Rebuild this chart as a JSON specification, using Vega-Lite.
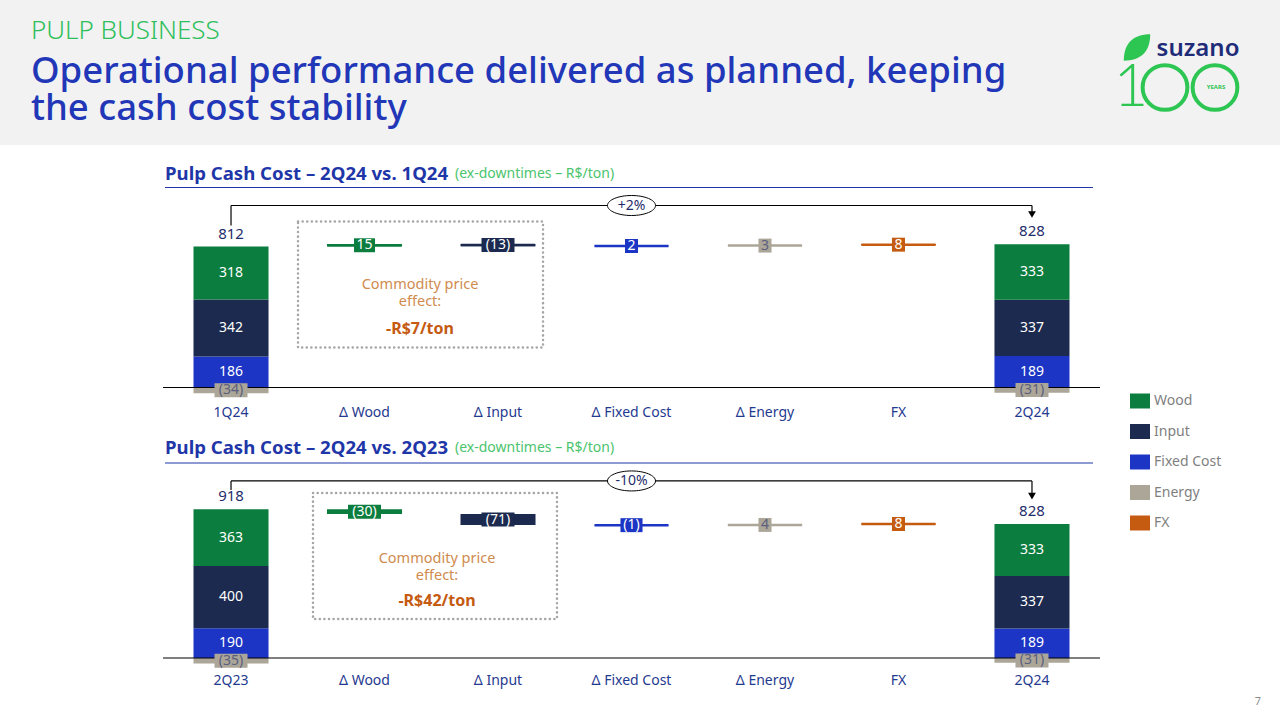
{
  "$schema": "https://vega.github.io/schema/vega-lite/v6.json",
  "padding": 0,
  "autosize": {"type": "pad"},
  "background": "white",
  "columns": 1,
  "bounds": "full",
  "spacing": 19.5,
  "config": {
    "font": "Noto Sans",
    "view": {"stroke": null},
    "text": {"font": "Noto Sans"}
  },
  "datasets": {
    "p1s": [
      {"cat": "1Q24", "comp": "Fixed Cost", "v": 186},
      {"cat": "1Q24", "comp": "Input", "v": 342},
      {"cat": "1Q24", "comp": "Wood", "v": 318},
      {"cat": "1Q24", "comp": "Energy", "v": -34},
      {"cat": "2Q24", "comp": "Fixed Cost", "v": 189},
      {"cat": "2Q24", "comp": "Input", "v": 337},
      {"cat": "2Q24", "comp": "Wood", "v": 333},
      {"cat": "2Q24", "comp": "Energy", "v": -31}
    ],
    "p1d": [
      {"cat": "Δ Wood", "comp": "Wood", "v": 15, "from": 846, "to": 861},
      {"cat": "Δ Input", "comp": "Input", "v": -13, "from": 861, "to": 848},
      {"cat": "Δ Fixed Cost", "comp": "Fixed Cost", "v": 2, "from": 848, "to": 850},
      {"cat": "Δ Energy", "comp": "Energy", "v": 3, "from": 850, "to": 853},
      {"cat": "FX", "comp": "FX", "v": 8, "from": 853, "to": 861}
    ],
    "p1n": [{"title": "Pulp Cash Cost – 2Q24 vs. 1Q24", "pct": "+2%", "note": "Commodity price\neffect:", "effect": "-R$7/ton", "unit": "(ex-downtimes – R$/ton)"}],
    "p2s": [
      {"cat": "2Q23", "comp": "Fixed Cost", "v": 190},
      {"cat": "2Q23", "comp": "Input", "v": 400},
      {"cat": "2Q23", "comp": "Wood", "v": 363},
      {"cat": "2Q23", "comp": "Energy", "v": -35},
      {"cat": "2Q24", "comp": "Fixed Cost", "v": 189},
      {"cat": "2Q24", "comp": "Input", "v": 337},
      {"cat": "2Q24", "comp": "Wood", "v": 333},
      {"cat": "2Q24", "comp": "Energy", "v": -31}
    ],
    "p2d": [
      {"cat": "Δ Wood", "comp": "Wood", "v": -30, "from": 953, "to": 923},
      {"cat": "Δ Input", "comp": "Input", "v": -71, "from": 923, "to": 852},
      {"cat": "Δ Fixed Cost", "comp": "Fixed Cost", "v": -1, "from": 852, "to": 851},
      {"cat": "Δ Energy", "comp": "Energy", "v": 4, "from": 851, "to": 855},
      {"cat": "FX", "comp": "FX", "v": 8, "from": 855, "to": 863}
    ],
    "p2n": [{"title": "Pulp Cash Cost – 2Q24 vs. 2Q23", "pct": "-10%", "note": "Commodity price\neffect:", "effect": "-R$42/ton", "unit": "(ex-downtimes – R$/ton)", "page": "7"}],
    "logo": [{"brand": "suzano", "one": "1", "small": "YEARS"}]
  },
  "concat": [
    {
      "width": 1280,
      "height": 145,
      "view": {"fill": "#f2f2f2", "stroke": null},
      "title": {
        "text": "PULP BUSINESS",
        "subtitle": ["Operational performance delivered as planned, keeping", "the cash cost stability"],
        "anchor": "start", "frame": "group", "orient": "top", "offset": -127, "dx": 31,
        "font": "Noto Sans", "fontSize": 26, "fontWeight": 300, "color": "#2fbf5c",
        "subtitleFont": "Noto Sans", "subtitleFontSize": 36.5, "subtitleFontWeight": 500,
        "subtitleColor": "#2137b8", "subtitlePadding": 10, "subtitleLineHeight": 37
      },
      "data": {"name": "logo"},
      "layer": [
        {"mark": {"type": "point", "shape": "M-1,1C-1,-0.3,-0.3,-1,1,-1C1,0.3,0.3,1,-1,1Z", "filled": true, "color": "#2dc653", "opacity": 1, "size": 700, "xOffset": 497, "yOffset": -25}, "encoding": {}},
        {"mark": {"type": "text", "fontSize": 24, "fontWeight": 600, "color": "#1e2b78", "xOffset": 558, "yOffset": -24}, "encoding": {"text": {"field": "brand"}}},
        {"mark": {"type": "text", "font": "Lato", "fontSize": 60, "fontWeight": 300, "color": "#2dc653", "xOffset": 491, "yOffset": 15}, "encoding": {"text": {"field": "one"}}},
        {"mark": {"type": "point", "shape": "circle", "filled": false, "color": "#2dc653", "strokeWidth": 4, "opacity": 1, "size": 2000, "xOffset": 525, "yOffset": 15}, "encoding": {}},
        {"mark": {"type": "point", "shape": "circle", "filled": false, "color": "#2dc653", "strokeWidth": 4, "opacity": 1, "size": 2000, "xOffset": 575, "yOffset": 15}, "encoding": {}},
        {"mark": {"type": "text", "fontSize": 6, "fontWeight": 700, "color": "#2dc653", "xOffset": 576, "yOffset": 14}, "encoding": {"text": {"field": "small"}}}
      ]
    },
    {
      "width": 1100,
      "height": 210,
      "layer": [
        {
          "data": {"name": "p1s"},
          "transform": [{"calculate": "indexof(['Fixed Cost','Input','Wood','Energy'], datum.comp)", "as": "ord"}],
          "mark": {"type": "bar"},
          "encoding": {
            "x": {"field": "cat", "type": "nominal", "scale": {"domain": ["1Q24", "Δ Wood", "Δ Input", "Δ Fixed Cost", "Δ Energy", "FX", "2Q24"], "range": [163, 1100], "paddingInner": 0.438, "paddingOuter": 0.2285}, "axis": {"title": null, "domain": false, "ticks": false, "labelAngle": 0, "labelFontSize": 14, "labelColor": "#1f3a8f", "labelPadding": 8, "labelFont": "Noto Sans"}},
            "y": {"field": "v", "type": "quantitative", "stack": "zero", "scale": {"domain": [-60, 1200], "nice": false, "zero": false}, "axis": null},
            "color": {"field": "comp", "type": "nominal", "scale": {"domain": ["Wood", "Input", "Fixed Cost", "Energy", "FX"], "range": ["#0b7d3e", "#1b2a4e", "#1c35c4", "#aca699", "#c55a11"]}, "legend": {"orient": "none", "legendX": 1130, "legendY": 391, "title": null, "symbolType": "M-1,-0.75H1V0.75H-1Z", "symbolSize": 400, "symbolStrokeWidth": 0, "symbolOpacity": 1, "labelFontSize": 14, "labelColor": "#7f7f7f", "rowPadding": 12.5, "labelOffset": 4, "padding": 0}},
            "order": {"field": "ord", "type": "quantitative"}
          }
        },
        {
          "data": {"name": "p1d"},
          "mark": {"type": "bar"},
          "encoding": {"x": {"field": "cat", "type": "nominal"}, "y": {"field": "from", "type": "quantitative"}, "y2": {"field": "to"}, "color": {"field": "comp", "type": "nominal"}}
        },
        {
          "data": {"name": "p1d"},
          "transform": [{"calculate": "(datum.from + datum.to) / 2", "as": "mid"}],
          "mark": {"type": "tick", "thickness": 2.5, "size": 74, "opacity": 1},
          "encoding": {"x": {"field": "cat", "type": "nominal"}, "y": {"field": "mid", "type": "quantitative"}, "color": {"field": "comp", "type": "nominal"}}
        },
        {
          "data": {"values": [{}]},
          "mark": {"type": "rule", "color": "black", "strokeWidth": 1.2, "xOffset": -68, "x2Offset": 68},
          "encoding": {"x": {"datum": "1Q24"}, "x2": {"datum": "2Q24"}, "y": {"datum": 0}}
        },
        {
          "data": {"values": [{}]},
          "mark": {"type": "rule", "color": "#1f36a8", "strokeWidth": 1.2, "xOffset": -66, "x2Offset": 61},
          "encoding": {"x": {"datum": "1Q24"}, "x2": {"datum": "2Q24"}, "y": {"datum": 1200}}
        },
        {
          "data": {"name": "p1s"},
          "transform": [
            {"calculate": "indexof(['Fixed Cost','Input','Wood','Energy'], datum.comp)", "as": "ord"},
            {"stack": "v", "groupby": ["cat"], "sort": [{"field": "ord", "order": "ascending"}], "as": ["s0", "s1"]},
            {"calculate": "(datum.s0 + datum.s1) / 2", "as": "mid"},
            {"calculate": "datum.v < 0 ? '(' + (-datum.v) + ')' : '' + datum.v", "as": "lab"},
            {"calculate": "length(datum.lab)", "as": "len"}
          ],
          "layer": [
            {
              "transform": [{"filter": "datum.comp === 'Energy'"}],
              "mark": {"type": "point", "filled": true, "opacity": 1, "size": 225, "strokeWidth": 0},
              "encoding": {"x": {"field": "cat", "type": "nominal"}, "y": {"field": "mid", "type": "quantitative"}, "color": {"field": "comp", "type": "nominal"}, "shape": {"field": "len", "type": "ordinal", "scale": {"domain": [1, 2, 3, 4], "range": ["M-0.87,-0.93H0.87V0.93H-0.87Z", "M-1.4,-0.93H1.4V0.93H-1.4Z", "M-1.47,-0.93H1.47V0.93H-1.47Z", "M-2.2,-0.93H2.2V0.93H-2.2Z"]}, "legend": null}}
            },
            {
              "mark": {"type": "text", "fontSize": 14, "baseline": "middle"},
              "encoding": {"x": {"field": "cat", "type": "nominal"}, "y": {"field": "mid", "type": "quantitative"}, "text": {"field": "lab"}, "color": {"condition": {"test": "datum.comp === 'Energy'", "value": "#5b5f7d"}, "value": "white"}}
            }
          ]
        },
        {
          "data": {"name": "p1d"},
          "transform": [
            {"calculate": "(datum.from + datum.to) / 2", "as": "mid"},
            {"calculate": "datum.v < 0 ? '(' + (-datum.v) + ')' : '' + datum.v", "as": "lab"},
            {"calculate": "length(datum.lab)", "as": "len"}
          ],
          "layer": [
            {
              "mark": {"type": "point", "filled": true, "opacity": 1, "size": 225, "strokeWidth": 0},
              "encoding": {"x": {"field": "cat", "type": "nominal"}, "y": {"field": "mid", "type": "quantitative"}, "color": {"field": "comp", "type": "nominal"}, "shape": {"field": "len", "type": "ordinal", "legend": null}}
            },
            {
              "mark": {"type": "text", "fontSize": 14, "baseline": "middle"},
              "encoding": {"x": {"field": "cat", "type": "nominal"}, "y": {"field": "mid", "type": "quantitative"}, "text": {"field": "lab"}, "color": {"condition": {"test": "datum.comp === 'Energy'", "value": "#5b5f7d"}, "value": "white"}}
            }
          ]
        },
        {
          "data": {"name": "p1s"},
          "transform": [
            {"joinaggregate": [{"op": "sum", "field": "v", "as": "total"}], "groupby": ["cat"]},
            {"filter": "datum.v > 0"},
            {"aggregate": [{"op": "sum", "field": "v", "as": "top"}, {"op": "max", "field": "total", "as": "total"}], "groupby": ["cat"]}
          ],
          "mark": {"type": "text", "fontSize": 15, "baseline": "middle", "dy": -13, "color": "#1f2d6b"},
          "encoding": {"x": {"field": "cat", "type": "nominal"}, "y": {"field": "top", "type": "quantitative"}, "text": {"field": "total"}}
        },
        {
          "data": {"name": "p1n"},
          "layer": [
            {"mark": {"type": "rule", "color": "black", "strokeWidth": 1.2}, "encoding": {"x": {"datum": "1Q24"}, "y": {"datum": 972}, "y2": {"datum": 1092}}},
            {"mark": {"type": "rule", "color": "black", "strokeWidth": 1.2}, "encoding": {"x": {"datum": "1Q24"}, "x2": {"datum": "2Q24"}, "y": {"datum": 1092}}},
            {"mark": {"type": "rule", "color": "black", "strokeWidth": 1.2}, "encoding": {"x": {"datum": "2Q24"}, "y": {"datum": 1092}, "y2": {"datum": 1045}}},
            {"mark": {"type": "point", "shape": "triangle-down", "filled": true, "color": "black", "size": 60, "opacity": 1}, "encoding": {"x": {"datum": "2Q24"}, "y": {"datum": 1038}}},
            {"mark": {"type": "point", "shape": "M-2.4,0C-2.4,-0.5523,-1.3255,-1,0,-1C1.3255,-1,2.4,-0.5523,2.4,0C2.4,0.5523,1.3255,1,0,1C-1.3255,1,-2.4,0.5523,-2.4,0Z", "filled": true, "fill": "white", "stroke": "black", "strokeWidth": 1, "size": 400, "opacity": 1}, "encoding": {"x": {"datum": "Δ Fixed Cost"}, "y": {"datum": 1092}}},
            {"mark": {"type": "text", "color": "#1f2d6b", "fontSize": 14, "baseline": "middle"}, "encoding": {"x": {"datum": "Δ Fixed Cost"}, "y": {"datum": 1092}, "text": {"field": "pct"}}},
            {"mark": {"type": "rect", "fill": "white", "fillOpacity": 0, "stroke": "#a6a6a6", "strokeWidth": 2.5, "strokeDash": [0.1, 4.5], "strokeCap": "round", "xOffset": -66.5, "x2Offset": 45}, "encoding": {"x": {"datum": "Δ Wood"}, "x2": {"datum": "Δ Input"}, "y": {"datum": 996}, "y2": {"datum": 240}}},
            {"mark": {"type": "text", "color": "#d08b4f", "fontSize": 14.5, "lineBreak": "\n", "lineHeight": 17, "baseline": "middle", "xOffset": 55.5}, "encoding": {"x": {"datum": "Δ Wood"}, "y": {"datum": 618}, "text": {"field": "note"}}},
            {"mark": {"type": "text", "color": "#c55a11", "fontSize": 16, "fontWeight": "bold", "baseline": "middle", "xOffset": 55.5}, "encoding": {"x": {"datum": "Δ Wood"}, "y": {"datum": 354}, "text": {"field": "effect"}}},
            {"mark": {"type": "text", "color": "#1f36a8", "fontSize": 18.6, "fontWeight": "bold", "align": "left", "baseline": "middle", "xOffset": -66}, "encoding": {"x": {"datum": "1Q24"}, "y": {"datum": 1284}, "text": {"field": "title"}}},
            {"mark": {"type": "text", "color": "#4cc46e", "fontSize": 14, "align": "left", "baseline": "middle", "xOffset": 90.5}, "encoding": {"x": {"datum": "Δ Wood"}, "y": {"datum": 1284}, "text": {"field": "unit"}}}
          ]
        }
      ]
    },
    {
      "width": 1100,
      "height": 205,
      "layer": [
        {
          "data": {"name": "p2s"},
          "transform": [{"calculate": "indexof(['Fixed Cost','Input','Wood','Energy'], datum.comp)", "as": "ord"}],
          "mark": {"type": "bar"},
          "encoding": {
            "x": {"field": "cat", "type": "nominal", "scale": {"domain": ["2Q23", "Δ Wood", "Δ Input", "Δ Fixed Cost", "Δ Energy", "FX", "2Q24"], "range": [163, 1100], "paddingInner": 0.438, "paddingOuter": 0.2285}, "axis": {"title": null, "domain": false, "ticks": false, "labelAngle": 0, "labelFontSize": 14, "labelColor": "#1f3a8f", "labelPadding": 5, "labelFont": "Noto Sans"}},
            "y": {"field": "v", "type": "quantitative", "stack": "zero", "scale": {"domain": [-64, 1250], "nice": false, "zero": false}, "axis": null},
            "color": {"field": "comp", "type": "nominal", "legend": {"orient": "none", "legendX": 1130, "legendY": 391, "title": null, "symbolType": "M-1,-0.75H1V0.75H-1Z", "symbolSize": 400, "symbolStrokeWidth": 0, "symbolOpacity": 1, "labelFontSize": 14, "labelColor": "#7f7f7f", "rowPadding": 12.5, "labelOffset": 4, "padding": 0}},
            "order": {"field": "ord", "type": "quantitative"}
          }
        },
        {
          "data": {"name": "p2d"},
          "mark": {"type": "bar"},
          "encoding": {"x": {"field": "cat", "type": "nominal"}, "y": {"field": "from", "type": "quantitative"}, "y2": {"field": "to"}, "color": {"field": "comp", "type": "nominal"}}
        },
        {
          "data": {"name": "p2d"},
          "transform": [{"calculate": "(datum.from + datum.to) / 2", "as": "mid"}],
          "mark": {"type": "tick", "thickness": 2.5, "size": 74, "opacity": 1},
          "encoding": {"x": {"field": "cat", "type": "nominal"}, "y": {"field": "mid", "type": "quantitative"}, "color": {"field": "comp", "type": "nominal"}}
        },
        {
          "data": {"values": [{}]},
          "mark": {"type": "rule", "color": "black", "strokeWidth": 1.2, "xOffset": -68, "x2Offset": 68},
          "encoding": {"x": {"datum": "2Q23"}, "x2": {"datum": "2Q24"}, "y": {"datum": 0}}
        },
        {
          "data": {"values": [{}]},
          "mark": {"type": "rule", "color": "#1f36a8", "strokeWidth": 1.2, "xOffset": -66, "x2Offset": 61},
          "encoding": {"x": {"datum": "2Q23"}, "x2": {"datum": "2Q24"}, "y": {"datum": 1250}}
        },
        {
          "data": {"name": "p2s"},
          "transform": [
            {"calculate": "indexof(['Fixed Cost','Input','Wood','Energy'], datum.comp)", "as": "ord"},
            {"stack": "v", "groupby": ["cat"], "sort": [{"field": "ord", "order": "ascending"}], "as": ["s0", "s1"]},
            {"calculate": "(datum.s0 + datum.s1) / 2", "as": "mid"},
            {"calculate": "datum.v < 0 ? '(' + (-datum.v) + ')' : '' + datum.v", "as": "lab"},
            {"calculate": "length(datum.lab)", "as": "len"}
          ],
          "layer": [
            {
              "transform": [{"filter": "datum.comp === 'Energy'"}],
              "mark": {"type": "point", "filled": true, "opacity": 1, "size": 225, "strokeWidth": 0},
              "encoding": {"x": {"field": "cat", "type": "nominal"}, "y": {"field": "mid", "type": "quantitative"}, "color": {"field": "comp", "type": "nominal"}, "shape": {"field": "len", "type": "ordinal", "scale": {"domain": [1, 2, 3, 4], "range": ["M-0.87,-0.93H0.87V0.93H-0.87Z", "M-1.4,-0.93H1.4V0.93H-1.4Z", "M-1.47,-0.93H1.47V0.93H-1.47Z", "M-2.2,-0.93H2.2V0.93H-2.2Z"]}, "legend": null}}
            },
            {
              "mark": {"type": "text", "fontSize": 14, "baseline": "middle"},
              "encoding": {"x": {"field": "cat", "type": "nominal"}, "y": {"field": "mid", "type": "quantitative"}, "text": {"field": "lab"}, "color": {"condition": {"test": "datum.comp === 'Energy'", "value": "#5b5f7d"}, "value": "white"}}
            }
          ]
        },
        {
          "data": {"name": "p2d"},
          "transform": [
            {"calculate": "(datum.from + datum.to) / 2", "as": "mid"},
            {"calculate": "datum.v < 0 ? '(' + (-datum.v) + ')' : '' + datum.v", "as": "lab"},
            {"calculate": "length(datum.lab)", "as": "len"}
          ],
          "layer": [
            {
              "mark": {"type": "point", "filled": true, "opacity": 1, "size": 225, "strokeWidth": 0},
              "encoding": {"x": {"field": "cat", "type": "nominal"}, "y": {"field": "mid", "type": "quantitative"}, "color": {"field": "comp", "type": "nominal"}, "shape": {"field": "len", "type": "ordinal", "legend": null}}
            },
            {
              "mark": {"type": "text", "fontSize": 14, "baseline": "middle"},
              "encoding": {"x": {"field": "cat", "type": "nominal"}, "y": {"field": "mid", "type": "quantitative"}, "text": {"field": "lab"}, "color": {"condition": {"test": "datum.comp === 'Energy'", "value": "#5b5f7d"}, "value": "white"}}
            }
          ]
        },
        {
          "data": {"name": "p2s"},
          "transform": [
            {"joinaggregate": [{"op": "sum", "field": "v", "as": "total"}], "groupby": ["cat"]},
            {"filter": "datum.v > 0"},
            {"aggregate": [{"op": "sum", "field": "v", "as": "top"}, {"op": "max", "field": "total", "as": "total"}], "groupby": ["cat"]}
          ],
          "mark": {"type": "text", "fontSize": 15, "baseline": "middle", "dy": -13, "color": "#1f2d6b"},
          "encoding": {"x": {"field": "cat", "type": "nominal"}, "y": {"field": "top", "type": "quantitative"}, "text": {"field": "total"}}
        },
        {
          "data": {"name": "p2n"},
          "layer": [
            {"mark": {"type": "rule", "color": "black", "strokeWidth": 1.2}, "encoding": {"x": {"datum": "2Q23"}, "y": {"datum": 1077}, "y2": {"datum": 1135}}},
            {"mark": {"type": "rule", "color": "black", "strokeWidth": 1.2}, "encoding": {"x": {"datum": "2Q23"}, "x2": {"datum": "2Q24"}, "y": {"datum": 1135}}},
            {"mark": {"type": "rule", "color": "black", "strokeWidth": 1.2}, "encoding": {"x": {"datum": "2Q24"}, "y": {"datum": 1135}, "y2": {"datum": 1045}}},
            {"mark": {"type": "point", "shape": "triangle-down", "filled": true, "color": "black", "size": 60, "opacity": 1}, "encoding": {"x": {"datum": "2Q24"}, "y": {"datum": 1038}}},
            {"mark": {"type": "point", "shape": "M-2.4,0C-2.4,-0.5523,-1.3255,-1,0,-1C1.3255,-1,2.4,-0.5523,2.4,0C2.4,0.5523,1.3255,1,0,1C-1.3255,1,-2.4,0.5523,-2.4,0Z", "filled": true, "fill": "white", "stroke": "black", "strokeWidth": 1, "size": 400, "opacity": 1}, "encoding": {"x": {"datum": "Δ Fixed Cost"}, "y": {"datum": 1135}}},
            {"mark": {"type": "text", "color": "#1f2d6b", "fontSize": 14, "baseline": "middle"}, "encoding": {"x": {"datum": "Δ Fixed Cost"}, "y": {"datum": 1135}, "text": {"field": "pct"}}},
            {"mark": {"type": "rect", "fill": "white", "fillOpacity": 0, "stroke": "#a6a6a6", "strokeWidth": 2.5, "strokeDash": [0.1, 4.5], "strokeCap": "round", "xOffset": -51.5, "x2Offset": 59}, "encoding": {"x": {"datum": "Δ Wood"}, "x2": {"datum": "Δ Input"}, "y": {"datum": 1058}, "y2": {"datum": 250}}},
            {"mark": {"type": "text", "color": "#d08b4f", "fontSize": 14.5, "lineBreak": "\n", "lineHeight": 17, "baseline": "middle", "xOffset": 72.5}, "encoding": {"x": {"datum": "Δ Wood"}, "y": {"datum": 635}, "text": {"field": "note"}}},
            {"mark": {"type": "text", "color": "#c55a11", "fontSize": 16, "fontWeight": "bold", "baseline": "middle", "xOffset": 72.5}, "encoding": {"x": {"datum": "Δ Wood"}, "y": {"datum": 365}, "text": {"field": "effect"}}},
            {"mark": {"type": "text", "color": "#1f36a8", "fontSize": 18.6, "fontWeight": "bold", "align": "left", "baseline": "middle", "xOffset": -66}, "encoding": {"x": {"datum": "2Q23"}, "y": {"datum": 1346}, "text": {"field": "title"}}},
            {"mark": {"type": "text", "color": "#4cc46e", "fontSize": 14, "align": "left", "baseline": "middle", "xOffset": 90.5}, "encoding": {"x": {"datum": "Δ Wood"}, "y": {"datum": 1346}, "text": {"field": "unit"}}},
            {"mark": {"type": "text", "color": "#8c8c8c", "fontSize": 11, "baseline": "middle", "xOffset": 226, "yOffset": 34}, "encoding": {"x": {"datum": "2Q24"}, "y": {"datum": -64}, "text": {"field": "page"}}}
          ]
        }
      ]
    }
  ]
}
